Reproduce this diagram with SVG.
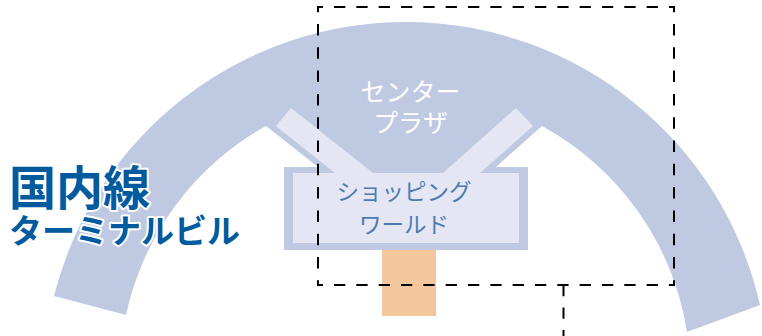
<svg xmlns="http://www.w3.org/2000/svg" width="762" height="336" viewBox="0 0 762 336">
<style>
.body{fill:#bfcae2}
.pale{fill:#e4e7f3}
text{font-family:"Noto Sans CJK JP","Noto Sans",sans-serif;text-anchor:middle}
.w{fill:#fff;font-size:25px}
.b{fill:#4f7ab1;font-size:22.5px}
.t{fill:#005a9e;font-weight:700;stroke:#fff;stroke-width:4px;paint-order:stroke;stroke-linejoin:round;text-anchor:start}
.h{fill:none;stroke:#000;stroke-width:2;stroke-dasharray:11.3 11.03;stroke-dashoffset:5.33}
.v{fill:none;stroke:#000;stroke-width:2;stroke-dasharray:11.5 11.8;stroke-dashoffset:6.3}
.s{fill:none;stroke:#000;stroke-width:2;stroke-dasharray:11.3 11.2}
</style>
<rect width="762" height="336" fill="#fff"/>
<g id="terminal">
<path class="body" d="M54 296A363 363 0 0 1 760 305L687 332A285 285 0 0 0 542 126L496 167H528V250H284V167H318L266 126A285 285 0 0 0 126 315Z"/>
</g>
<g id="center-plaza">
<text class="w" x="410.500" y="101">センター</text>
<text class="w" x="410.500" y="132">プラザ</text>
</g>
<g id="pier">
<rect x="382" y="250" width="54" height="66" fill="#f3c69c"/>
</g>
<g id="shopping-world">
<path class="pale" d="M291 108L276 126L335 173H293V243H519V173H480L533 126L516 108L443 173H373Z"/>
</g>
<g id="connectors">
<path class="h" d="M317 7H675"/>
<path class="h" d="M317 285H675"/>
<path class="v" d="M318 7V285"/>
<path class="v" d="M674 7V285"/>
<path class="s" d="M563.500 285V336"/>
</g>
<g id="shopping-label">
<text class="b" x="404" y="200">ショッピング</text>
<text class="b" x="404" y="233">ワールド</text>
</g>
<g id="title">
<text class="t" x="9" y="205" font-size="47">国内線</text>
<text class="t" x="9" y="243" font-size="33">ターミナルビル</text>
</g>
</svg>
